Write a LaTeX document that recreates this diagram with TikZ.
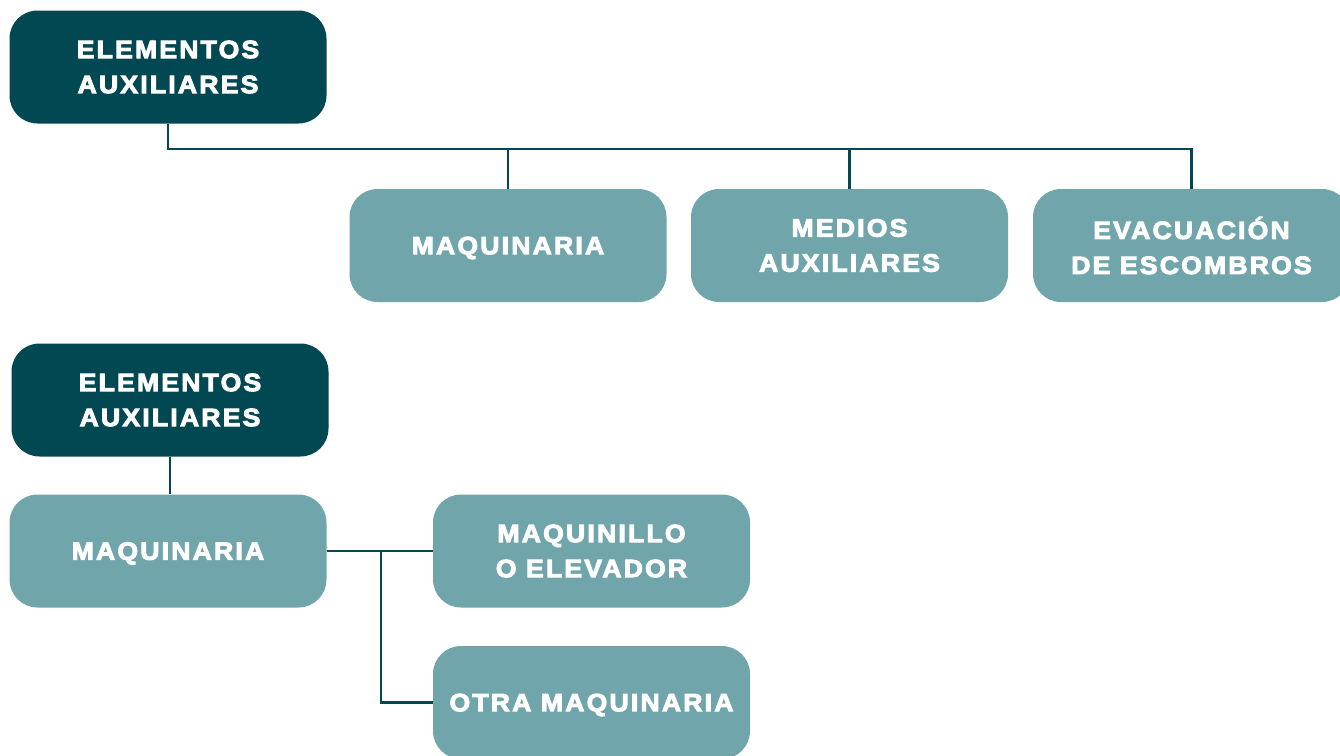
\documentclass[tikz,border=0pt]{standalone}
\usepackage{fontspec}
\newfontfamily\boxfont{Liberation Sans Bold}[LetterSpace=9, FakeStretch=1.06, FakeBold=4]
\definecolor{darkteal}{HTML}{024852}
\definecolor{lightteal}{HTML}{70A6AB}
\begin{document}
\begin{tikzpicture}[x=1pt,y=-1pt,
  box/.style={rounded corners=28pt, minimum width=317pt, minimum height=113pt,
    text=white, font=\fontsize{25}{35}\boxfont, align=center, inner sep=0pt},
  topbox/.style={box, fill=darkteal},
  subbox/.style={box, fill=lightteal},
  oneline/.style={text depth=0pt},
  link/.style={draw=darkteal, line width=2.6pt}]
\useasboundingbox (0,0) rectangle (1340,755);
\begin{scope}
\clip (0,0) rectangle (1340,755);
\node[topbox] (ea1) at (168,67) {ELEMENTOS\\AUXILIARES};
\node[subbox, oneline] (maq1) at (508,245.5) {MAQUINARIA};
\node[subbox] (med) at (849.5,245.5) {MEDIOS\\AUXILIARES};
\node[subbox] (evac) at (1191.5,245.5) {EVACUACIÓN\\DE ESCOMBROS};
\node[topbox] (ea2) at (170,400) {ELEMENTOS\\AUXILIARES};
\node[subbox, oneline] (maq2) at (168,551) {MAQUINARIA};
\node[subbox] (maqui) at (591.5,551) {MAQUINILLO\\O ELEVADOR};
\node[subbox, oneline] (otra) at (591.5,702.5) {OTRA MAQUINARIA};
\end{scope}
\coordinate (bus) at (168,149);
\draw[link] (ea1.south) |- (evac.north |- bus) -- (evac.north);
\draw[link] (maq1.north |- bus) -- (maq1.north);
\draw[link] (med.north |- bus) -- (med.north);
\draw[link] (ea2.south) -- (ea2.south |- maq2.north);
\coordinate (br) at (381,551);
\draw[link] (maq2.east) -- (maqui.west);
\draw[link] (br) |- (otra.west);
\end{tikzpicture}
\end{document}
